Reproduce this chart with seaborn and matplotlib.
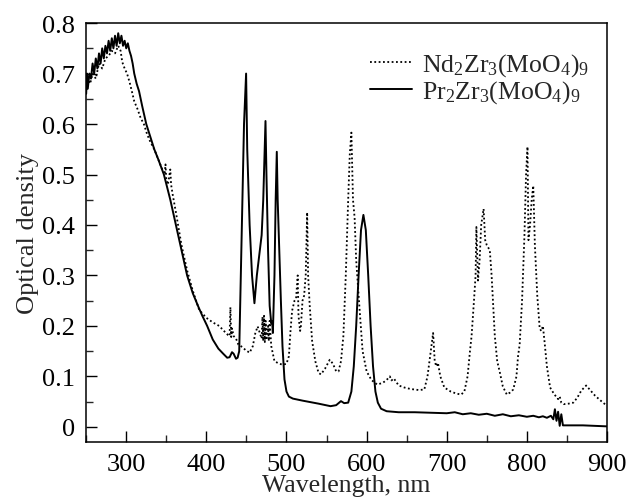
import numpy as np
import pandas as pd
import matplotlib
matplotlib.use("Agg")
import matplotlib.pyplot as plt
import seaborn as sns
from matplotlib.ticker import MultipleLocator

## Pr2Zr3(MoO4)9 spectrum (solid line)
pr_wl = [250, 251, 252, 254, 256, 258, 260, 262, 264, 266, 268, 270, 272, 274, 276,
         278, 280, 282, 284, 286, 288, 290, 292, 294, 296, 298, 300, 302, 304, 306,
         308, 310, 313, 316, 320, 325, 330, 335, 340, 347, 355, 362, 369, 376, 383,
         390, 395, 401, 408, 415, 421, 426, 429, 432, 434, 437, 439, 441, 443, 445,
         447, 449.6, 451, 454, 457, 460, 463, 466, 469, 471, 472.5, 473.8, 475, 477,
         479, 481, 482, 483, 485, 486.5, 487.9, 489, 491, 493, 495, 497.5, 500, 503,
         508, 520, 540, 555, 562, 568, 572, 577, 581, 584, 587, 590, 593, 596, 599,
         602, 605, 608, 611, 614, 618, 625, 640, 660, 680, 700, 710, 720, 730, 740,
         750, 760, 770, 780, 790, 800, 808, 815, 820, 825, 830, 833, 835, 837, 839,
         841, 843, 845, 870, 900]
pr_od = [0.66, 0.70, 0.67, 0.70, 0.69, 0.72, 0.70, 0.73, 0.71, 0.74, 0.72, 0.75, 0.73, 0.755, 0.74,
         0.765, 0.745, 0.77, 0.75, 0.775, 0.755, 0.78, 0.76, 0.775, 0.755, 0.765, 0.75, 0.76, 0.745, 0.735,
         0.72, 0.70, 0.68, 0.665, 0.635, 0.60, 0.575, 0.55, 0.53, 0.50, 0.45, 0.40, 0.35, 0.30, 0.265,
         0.238, 0.22, 0.20, 0.173, 0.155, 0.145, 0.137, 0.138, 0.148, 0.145, 0.135, 0.137, 0.15, 0.30, 0.45,
         0.60, 0.70, 0.55, 0.40, 0.30, 0.245, 0.30, 0.34, 0.38, 0.45, 0.53, 0.606, 0.50, 0.35,
         0.24, 0.205, 0.21, 0.186, 0.30, 0.45, 0.545, 0.45, 0.35, 0.25, 0.16, 0.094, 0.07, 0.06,
         0.056, 0.052, 0.046, 0.041, 0.043, 0.051, 0.047, 0.048, 0.07, 0.12, 0.20, 0.30, 0.39, 0.42, 0.39,
         0.30, 0.20, 0.12, 0.07, 0.048, 0.036, 0.031, 0.029, 0.029, 0.028, 0.027, 0.029, 0.025, 0.027, 0.024,
         0.026, 0.022, 0.025, 0.021, 0.023, 0.02, 0.022, 0.019, 0.021, 0.018, 0.022, 0.015, 0.035, 0.012, 0.03,
         0.002, 0.025, 0.003, 0.003, 0.001]

## Nd2Zr3(MoO4)9 spectrum (dotted line)
nd_wl = [250, 252, 255, 258, 262, 266, 270, 274, 278, 282, 286, 290, 293, 295, 298,
         301, 304, 307, 310, 314, 318, 322, 326, 330, 335, 340, 345, 348, 349, 350,
         352, 355, 356, 358, 362, 369, 376, 383, 391, 400, 408, 416, 422, 427, 429,
         430, 431, 432, 434, 437, 440, 445, 449, 454, 458, 461, 464, 467, 469, 470,
         471, 472, 473, 474, 475, 477, 478, 479, 481, 485, 490, 495, 500, 503, 505,
         507, 510, 512, 514, 515, 517, 518, 520, 522, 524, 525.8, 527, 529, 532, 536,
         540, 543, 548, 554, 558, 562, 565, 568, 571, 574, 577, 579, 581, 583, 585,
         587, 591, 595, 600, 606, 613, 620, 625, 629, 631, 634, 640, 647, 655, 665,
         672, 676, 680, 683, 685, 687, 689, 692, 697, 705, 712, 718, 722, 726, 729,
         731, 734, 736, 737, 739, 741, 743, 746, 748, 750, 753.75, 756, 758, 760, 763,
         766, 770, 775, 779, 783, 787, 789, 791, 794, 797, 799, 800.8, 802, 804, 806,
         808, 810, 813, 816, 818, 820, 822, 825, 829, 834, 839, 841, 843, 846, 852,
         858, 863, 868, 874, 879, 885, 890, 895, 900]
nd_od = [0.67, 0.69, 0.68, 0.70, 0.69, 0.72, 0.71, 0.73, 0.735, 0.745, 0.74, 0.755, 0.745, 0.723, 0.71,
         0.70, 0.684, 0.665, 0.645, 0.63, 0.612, 0.60, 0.58, 0.565, 0.55, 0.53, 0.51, 0.50, 0.52, 0.49,
         0.48, 0.51, 0.48, 0.46, 0.425, 0.36, 0.31, 0.27, 0.232, 0.216, 0.207, 0.20, 0.19, 0.182, 0.18,
         0.237, 0.178, 0.195, 0.18, 0.175, 0.163, 0.158, 0.152, 0.147, 0.16, 0.185, 0.199, 0.185, 0.175, 0.218,
         0.17, 0.22, 0.168, 0.21, 0.172, 0.20, 0.17, 0.21, 0.16, 0.13, 0.126, 0.123, 0.125, 0.14, 0.19,
         0.23, 0.25, 0.255, 0.30, 0.22, 0.19, 0.20, 0.25, 0.26, 0.30, 0.425, 0.30, 0.24, 0.17, 0.13,
         0.107, 0.104, 0.115, 0.133, 0.125, 0.11, 0.11, 0.13, 0.18, 0.30, 0.45, 0.54, 0.583, 0.45, 0.415,
         0.33, 0.238, 0.15, 0.11, 0.093, 0.084, 0.087, 0.093, 0.10, 0.092, 0.096, 0.082, 0.078, 0.075, 0.073,
         0.074, 0.10, 0.15, 0.186, 0.13, 0.12, 0.127, 0.10, 0.078, 0.07, 0.066, 0.064, 0.07, 0.10, 0.15,
         0.18, 0.25, 0.30, 0.396, 0.29, 0.33, 0.40, 0.432, 0.37, 0.36, 0.35, 0.30, 0.24, 0.18, 0.13,
         0.11, 0.08, 0.064, 0.068, 0.074, 0.10, 0.14, 0.163, 0.25, 0.38, 0.50, 0.555, 0.37, 0.40, 0.45,
         0.478, 0.36, 0.26, 0.195, 0.19, 0.20, 0.17, 0.12, 0.078, 0.065, 0.055, 0.06, 0.048, 0.045, 0.046,
         0.048, 0.058, 0.072, 0.082, 0.073, 0.062, 0.055, 0.048, 0.042]

nd_label = r"Nd$_2$Zr$_3$(MoO$_4$)$_9$"
pr_label = r"Pr$_2$Zr$_3$(MoO$_4$)$_9$"

sns.set_theme(style="ticks")
plt.rcParams["font.family"] = ["Liberation Serif", "DejaVu Serif"]
plt.rcParams["mathtext.fontset"] = "custom"
plt.rcParams["mathtext.rm"] = "Liberation Serif"
plt.rcParams["mathtext.it"] = "Liberation Serif"

fig = plt.figure(figsize=(6.29, 5.02), dpi=100)
ax = fig.add_axes([0.137, 0.1175, 0.828, 0.8345])

nd = pd.DataFrame({"wl": nd_wl, "od": nd_od})
pr = pd.DataFrame({"wl": pr_wl, "od": pr_od})

sns.lineplot(data=nd, x="wl", y="od", ax=ax, color="black", lw=1.3,
             linestyle=(0, (1, 1.4)), sort=False, estimator=None, label=nd_label)
sns.lineplot(data=pr, x="wl", y="od", ax=ax, color="black", lw=1.4,
             sort=False, estimator=None, label=pr_label)

ax.set_xlim(250, 900)
ax.set_ylim(-0.03, 0.8)
ax.xaxis.set_minor_locator(MultipleLocator(50))
ax.yaxis.set_minor_locator(MultipleLocator(0.05))
ax.set_yticks(np.arange(0, 0.81, 0.1))
ax.set_yticklabels(["0", "0.1", "0.2", "0.3", "0.4", "0.5", "0.6", "0.7", "0.8"])
ax.set_xticks([300, 400, 500, 600, 700, 800, 900])
ax.tick_params(which="major", direction="in", length=8, width=1, labelsize=19, colors="black")
ax.tick_params(axis="x", which="major", pad=8)
ax.tick_params(axis="y", which="major", pad=8)
ax.tick_params(which="minor", direction="in", length=5, width=1)
for s in ax.spines.values():
    s.set_linewidth(1.1)
    s.set_color("black")

ax.set_xlabel("Wavelength, nm", fontsize=18.5, labelpad=-1)
ax.set_ylabel("Optical density", fontsize=19, labelpad=2)

ax.legend(loc="upper right", frameon=False, fontsize=18.5, handlelength=1.6,
          handletextpad=0.4, labelspacing=0.0, borderaxespad=0.3,
          bbox_to_anchor=(1.0, 0.975))

fig.savefig("out.png", dpi=100)
